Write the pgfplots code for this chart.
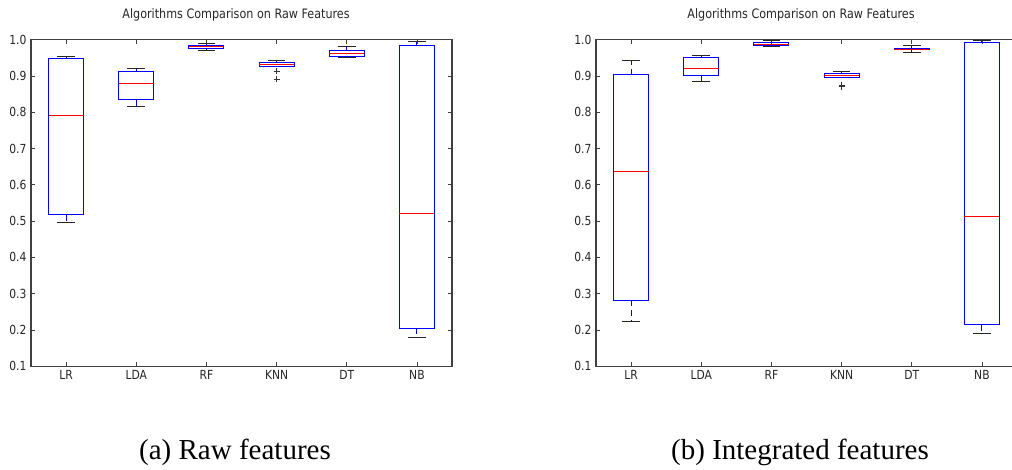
\documentclass[border=0pt]{standalone}
\usepackage{pgfplots}
\pgfplotsset{compat=1.18}
\usepgfplotslibrary{statistics}
\usepackage{fontspec}
\setmainfont{DejaVu Sans}[FakeStretch=0.86]
\newfontfamily\capfont{Liberation Serif}

\pgfplotsset{
  mybox/.style={
    width=421pt, height=326.6pt, scale only axis,
    xmin=0.5, xmax=6.5, ymin=0.1, ymax=1.0,
    xtick={1,2,3,4,5,6}, xticklabels={LR,LDA,RF,KNN,DT,NB},
    ytick={0.1,0.2,0.3,0.4,0.5,0.6,0.7,0.8,0.9,1.0},
    yticklabel style={xshift=-1pt, /pgf/number format/fixed, /pgf/number format/fixed zerofill, /pgf/number format/precision=1, /pgf/number format/assume math mode=true},
    ticklabel style={font=\fontsize{12.5}{14}\selectfont, text=black!85},
    xticklabel style={yshift=-1pt},
    tick align=inside,
    major tick length=4pt,
    tick style={black!75, line width=0.8pt},
    axis line style={black!75, line width=1.2pt},
    title style={font=\fontsize{13}{15}\selectfont, text=black!85, anchor=base, at={(rel axis cs:0.487,1)}, yshift=15pt},
    boxplot/draw direction=y,
    boxplot/box extend=0.5,
    boxplot/whisker extend=0.25,
    boxplot/every box/.style={draw=blue, line width=1pt},
    boxplot/every median/.style={draw=red, line width=1pt},
    boxplot/draw/lower whisker/.code={%
      \draw[blue, line width=1pt, dash pattern=on 6pt off 4pt]
        (boxplot cs:\pgfplotsboxplotvalue{lower quartile}) -- (boxplot cs:\pgfplotsboxplotvalue{lower whisker});
      \draw[black!85, line width=1pt]
        (boxplot whisker cs:\pgfplotsboxplotvalue{lower whisker},0) -- (boxplot whisker cs:\pgfplotsboxplotvalue{lower whisker},1);
    },
    boxplot/draw/upper whisker/.code={%
      \draw[blue, line width=1pt, dash pattern=on 6pt off 4pt]
        (boxplot cs:\pgfplotsboxplotvalue{upper quartile}) -- (boxplot cs:\pgfplotsboxplotvalue{upper whisker});
      \draw[black!85, line width=1pt]
        (boxplot whisker cs:\pgfplotsboxplotvalue{upper whisker},0) -- (boxplot whisker cs:\pgfplotsboxplotvalue{upper whisker},1);
    },
  },
  flier/.style={mark=+, mark size=3pt, mark options={black!80, line width=0.8pt}},
}

\begin{document}
\begin{tikzpicture}
\path[use as bounding box] (0,0) rectangle (1012pt,469pt);
\clip (0,0) rectangle (1012pt,469pt);

% (a) Raw features
\begin{axis}[mybox, at={(31pt,102.7pt)}, anchor=south west,
  title={Algorithms Comparison on Raw Features}]
\addplot[boxplot prepared={draw position=1, lower whisker=0.496, lower quartile=0.518, median=0.792, upper quartile=0.947, upper whisker=0.953}] coordinates {};
\addplot[boxplot prepared={draw position=2, lower whisker=0.817, lower quartile=0.835, median=0.880, upper quartile=0.912, upper whisker=0.920}] coordinates {};
\addplot[boxplot prepared={draw position=3, lower whisker=0.970, lower quartile=0.976, median=0.981, upper quartile=0.985, upper whisker=0.990}] coordinates {};
\addplot[flier, boxplot prepared={draw position=4, lower whisker=0.925, lower quartile=0.927, median=0.932, upper quartile=0.936, upper whisker=0.943}] table[row sep=\\, y index=0] {0.913\\ 0.891\\};
\addplot[boxplot prepared={draw position=5, lower whisker=0.952, lower quartile=0.955, median=0.961, upper quartile=0.969, upper whisker=0.980}] coordinates {};
\addplot[boxplot prepared={draw position=6, lower whisker=0.179, lower quartile=0.205, median=0.522, upper quartile=0.983, upper whisker=0.996}] coordinates {};
\end{axis}

% (b) Integrated features
\begin{axis}[mybox, at={(596pt,102.7pt)}, anchor=south west,
  title={Algorithms Comparison on Raw Features}]
\addplot[boxplot prepared={draw position=1, lower whisker=0.224, lower quartile=0.282, median=0.637, upper quartile=0.903, upper whisker=0.942}] coordinates {};
\addplot[boxplot prepared={draw position=2, lower whisker=0.885, lower quartile=0.902, median=0.922, upper quartile=0.950, upper whisker=0.956}] coordinates {};
\addplot[boxplot prepared={draw position=3, lower whisker=0.982, lower quartile=0.985, median=0.987, upper quartile=0.992, upper whisker=0.997}] coordinates {};
\addplot[flier, boxplot prepared={draw position=4, lower whisker=0.895, lower quartile=0.896, median=0.902, upper quartile=0.908, upper whisker=0.913}] table[row sep=\\, y index=0] {0.874\\ 0.870\\};
\addplot[boxplot prepared={draw position=5, lower whisker=0.965, lower quartile=0.972, median=0.974, upper quartile=0.976, upper whisker=0.983}] coordinates {};
\addplot[boxplot prepared={draw position=6, lower whisker=0.190, lower quartile=0.215, median=0.512, upper quartile=0.992, upper whisker=0.998}] coordinates {};
\end{axis}

\node[anchor=base, font=\capfont\fontsize{29}{32}\selectfont] at (235pt,10pt) {(a) Raw features};
\node[anchor=base, font=\capfont\fontsize{29}{32}\selectfont] at (800pt,10pt) {(b) Integrated features};
\end{tikzpicture}
\end{document}
